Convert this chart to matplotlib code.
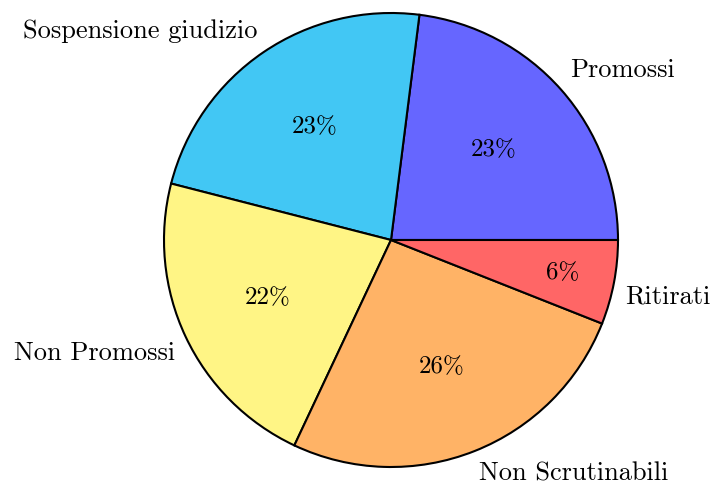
import matplotlib
matplotlib.use("Agg")
import matplotlib.pyplot as plt

labels = ["Promossi", "Sospensione giudizio", "Non Promossi", "Non Scrutinabili", "Ritirati"]
values = [23, 23, 22, 26, 6]
colors = ["#6666FF", "#42C7F4", "#FFF585", "#FFB366", "#FF6666"]

plt.rcParams["font.family"] = ["cmr10", "DejaVu Serif"]
plt.rcParams["axes.unicode_minus"] = False

fig = plt.figure(figsize=(7.13, 4.82), dpi=100)
ax = fig.add_axes([0, 0, 1, 1])

wedges, texts, autotexts = ax.pie(values, labels=labels, colors=colors, autopct="%1.0f%%",
       startangle=0, counterclock=True, labeldistance=1.05,
       wedgeprops={"edgecolor": "black", "linewidth": 1.5},
       textprops={"fontsize": 19})

# labels sit above/below their anchor point rather than centred on it
for t in texts:
    x, y = t.get_position()
    t.set_va("bottom" if y > 0 else "top")

# small slices get their percentage pushed further out
for v, t in zip(values, autotexts):
    t.set_fontsize(18)
    if v < 10:
        x, y = t.get_position()
        t.set_position((x * 0.77 / 0.6, y * 0.77 / 0.6))

# pie centre at (391, 240) px from top-left, radius about 227 px
R = 227.0
ax.set_xlim(-391 / R, (713 - 391) / R)
ax.set_ylim(-(482 - 240) / R, 240 / R)
ax.set_aspect("auto")
ax.axis("off")

fig.savefig("out.png", dpi=100)
